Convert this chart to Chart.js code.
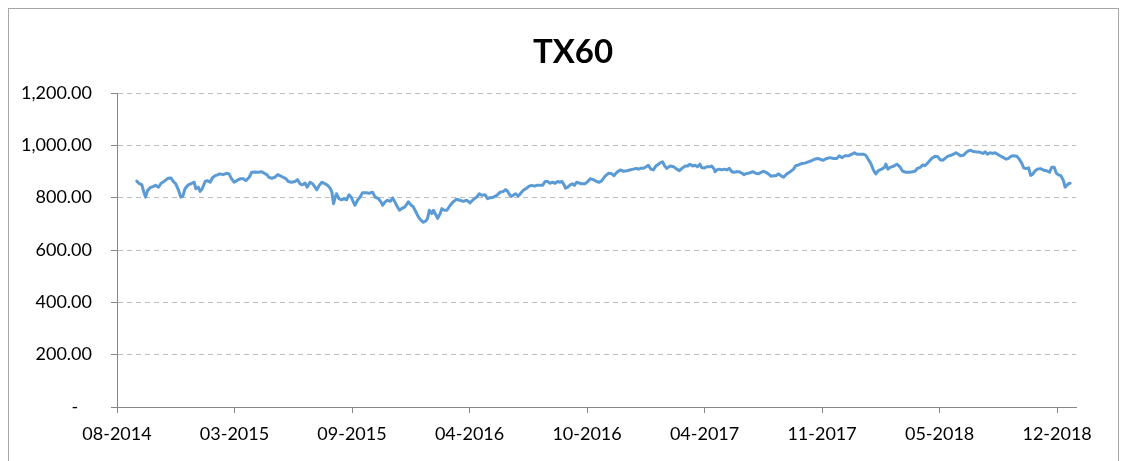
<!DOCTYPE html>
<html>
<head>
<meta charset="utf-8">
<script src="https://cdn.jsdelivr.net/npm/chart.js@4/dist/chart.umd.min.js"></script>
<style>
    body { margin: 0; background: #fff; overflow: hidden; }
    #frame { position: absolute; left: 8px; top: 8px; width: 1109px; height: 520px; border: 1px solid #a6a6a6; }
    #wrap { position: absolute; left: 0; top: 0; width: 1128px; height: 461px; }
    #title { position: absolute; left: 473px; top: 30px; width: 200px; height: 40px; line-height: 40px; text-align: center;
             font-family: Lato, "Open Sans", sans-serif; font-weight: bold; font-size: 33px; color: #000; }
</style>
</head>
<body>
<div id="frame"></div>
<div id="wrap"><canvas id="txChart" width="1128" height="461"></canvas></div>
<div id="title">TX60</div>
<script>
// labels under the date axis, one per major unit (28 weeks)
var dateLabels = ['08-2014', '03-2015', '09-2015', '04-2016', '10-2016', '04-2017', '11-2017', '05-2018', '12-2018'];

// weeks since the start of the axis
var weeks = [
    4.7, 5.2, 5.9, 6.4, 6.8, 7.3, 7.9, 8.7, 9.2, 9.9, 10.5, 11.3, 12.1, 12.9, 13.4, 14.0, 14.6, 15.2, 15.7, 16.2,
    17.0, 17.8, 18.4, 18.8, 19.4, 19.8, 20.3, 21.0, 21.5, 22.2, 22.7, 23.4, 24.0, 24.5, 25.3, 26.1, 26.7, 27.3, 27.9, 28.5,
    29.3, 30.1, 30.7, 31.5, 32.1, 32.9, 33.7, 34.5, 35.1, 35.7, 36.2, 36.9, 37.7, 38.3,
    38.8, 39.6, 40.3, 40.8, 41.6, 42.4, 43.0, 43.6, 44.2, 44.8, 45.3, 46.0, 46.6, 47.2, 47.6, 48.2, 48.8, 49.6, 50.2, 50.8,
    51.2, 51.6, 52.0, 52.3, 52.9, 53.5, 54.1, 54.7, 55.3, 55.8, 56.3, 56.7, 57.3, 57.9, 58.5, 59.3, 60.1, 60.9, 61.5, 62.3,
    62.9, 63.3, 63.9, 64.4, 65.1, 65.7, 66.2, 66.8, 67.3, 67.8, 68.6, 69.4, 70.1, 70.6, 71.2, 71.8, 72.4, 73.0, 73.6, 74.0,
    74.4, 75.0, 75.4,
    76.4, 77.0, 77.4, 78.0, 78.6, 79.4, 80.1, 80.9, 81.7, 82.5, 83.3, 84.1, 84.9, 85.7, 86.3, 86.9, 87.7, 88.3, 88.9, 89.7,
    90.5, 91.3, 92.1, 92.6, 93.1, 93.4, 93.9, 94.4, 95.0, 95.6, 96.3, 96.8, 97.6, 98.2, 98.8, 99.5, 100.0, 100.8, 101.4, 102.0,
    102.6, 103.2, 103.7, 104.4, 105.0, 105.6, 106.0, 106.4, 106.9, 107.4, 108.0, 108.5, 109.0, 109.5, 110.1, 110.7, 111.5, 112.2,
    112.7, 113.5, 114.3, 114.9, 115.5, 116.3, 117.1, 117.9, 118.4, 119.1, 119.9, 120.7, 121.5, 122.2, 123.0, 123.7, 124.2, 124.8,
    125.4, 126.1, 126.6, 127.2, 127.8, 128.4, 129.0, 129.6, 130.0, 130.5, 131.0, 131.8, 132.6, 133.4, 134.0, 134.6, 135.4, 136.0,
    136.5, 137.2, 137.7, 138.3, 138.9, 139.3, 139.9, 140.5, 141.2, 141.7, 142.3, 142.5, 142.9, 143.5, 144.1, 144.7, 145.3, 145.9,
    146.5, 147.0, 147.7, 148.3, 148.9, 149.4,
    149.7, 150.4, 151.1, 151.6, 152.2, 152.8, 153.5, 154.0, 154.6, 155.2, 155.8, 156.4, 157.0, 157.6, 158.2, 158.8, 159.6, 160.4,
    161.2, 161.7, 162.4, 163.2, 163.9, 164.7, 165.5, 166.2, 167.0, 167.5, 168.3, 169.1, 169.9, 170.7, 171.5, 172.1, 172.7, 173.5,
    174.3, 175.1, 175.7, 176.3, 177.1, 177.9, 178.4, 179.0, 179.7, 180.2, 180.8, 181.4, 182.2, 182.9, 183.2, 183.7, 184.2, 185.0,
    185.8, 186.4,
    186.6, 187.2, 188.0, 188.8, 189.6, 190.2, 190.7, 191.4, 192.0, 192.5, 193.3, 194.1, 194.9, 195.6, 196.1, 196.7, 197.3, 197.9,
    198.7, 199.3, 199.9, 200.5, 201.0, 201.7, 202.3, 202.9, 203.4, 204.1, 204.7, 205.3, 205.8, 206.3, 206.9, 207.4, 208.0, 208.7,
    209.2, 209.8, 210.4, 211.2, 211.9, 212.4, 213.0, 213.6, 214.4, 215.0, 215.6, 216.0, 216.6, 217.2, 217.7, 218.2, 218.8, 219.3,
    220.0, 220.8, 221.5, 222.2, 222.7, 223.3, 223.8, 224.3, 224.9, 225.5, 225.9, 226.3, 226.7, 227.1
];

// index level
var tx60 = [
    863, 855, 850, 821, 802, 828, 838, 843, 847, 840, 855, 863, 874, 875, 862, 853, 831, 802, 806, 834,
    849, 855, 859, 834, 840, 824, 834, 862, 865, 859, 875, 884, 887, 891, 888, 893, 891, 872, 859, 865,
    872, 872, 865, 878, 897, 898, 897, 899, 893, 888, 878, 874, 879, 888,
    884, 878, 872, 862, 859, 862, 869, 853, 849, 856, 840, 859, 853, 840, 830, 847, 859, 853, 847, 836,
    821, 777, 802, 815, 796, 792, 796, 792, 811, 802, 784, 771, 790, 802, 819, 819, 817, 821, 802, 796,
    784, 771, 784, 790, 786, 799, 784, 765, 752, 758, 765, 784, 771, 765, 746, 727, 714, 706, 711, 721,
    752, 739, 752,
    721, 739, 758, 752, 752, 771, 784, 794, 790, 786, 790, 780, 793, 802, 815, 809, 811, 796, 800, 802,
    809, 821, 824, 831, 824, 815, 805, 809, 815, 806, 819, 828, 836, 844, 847, 844, 847, 847, 847, 862,
    862, 855, 859, 855, 862, 859, 862, 853, 836, 840, 849, 853, 847, 859, 856, 853, 853, 862,
    872, 869, 862, 859, 865, 882, 893, 891, 884, 897, 906, 901, 903, 906, 909, 912, 909, 912,
    912, 918, 924, 909, 906, 921, 928, 935, 937, 921, 912, 921, 918, 909, 903, 912, 921, 921,
    928, 921, 924, 918, 928, 915, 913, 918, 918, 921, 909, 899, 906, 909, 906, 909, 906, 912,
    899, 897, 899, 899, 893, 888,
    891, 893, 897, 899, 893, 891, 897, 901, 897, 891, 882, 884, 884, 891, 884, 878, 891, 899,
    909, 922, 925, 931, 932, 937, 941, 947, 950, 947, 943, 950, 953, 950, 950, 960, 953, 960,
    960, 966, 972, 966, 966, 966, 962, 947, 928, 907, 891, 903, 909, 916, 928, 909, 916, 920,
    928, 920,
    916, 901, 897, 897, 899, 902, 912, 916, 925, 922, 935, 950, 958, 956, 945, 943, 950, 958,
    962, 966, 972, 966, 960, 962, 972, 979, 981, 976, 975, 975, 972, 969, 975, 966, 972, 969,
    972, 966, 960, 953, 947, 950, 958, 960, 958, 947, 931, 914, 911, 914, 885, 890, 903, 909,
    911, 905, 903, 897, 916, 916, 894, 887, 884, 865, 840, 847, 853, 855
];

var yTicks = [0, 200, 400, 600, 800, 1000, 1200];

var axisGrey = '#868686';
var font = { family: 'Lato, "Open Sans", sans-serif', size: 18 };

var points = weeks.map(function (w, i) {
    return { x: w, y: tx60[i] };
});

var ctx = document.getElementById('txChart').getContext('2d');

var txChart = new Chart(ctx, {
    type: 'line',
    data: {
        datasets: [{
            label: 'TX60',
            data: points,
            borderColor: '#5B9BD5',
            borderWidth: 3,
            borderJoinStyle: 'round',
            borderCapStyle: 'round',
            pointRadius: 0,
            fill: false,
            tension: 0
        }]
    },
    options: {
        responsive: false,
        animation: false,
        devicePixelRatio: 1,
        layout: {
            padding: { top: 93, right: 52, bottom: 0, left: 0 }
        },
        plugins: {
            legend: { display: false },
            tooltip: { enabled: false },
            title: { display: false }
        },
        scales: {
            x: {
                type: 'linear',
                min: 0,
                max: 228.5,
                afterFit: function (scale) { scale.height = 54; },
                ticks: {
                    stepSize: 28,
                    includeBounds: false,
                    autoSkip: false,
                    maxRotation: 0,
                    padding: 10,
                    color: '#000',
                    font: font,
                    callback: function (value) {
                        return dateLabels[Math.round(value / 28)];
                    }
                },
                grid: {
                    drawOnChartArea: false,
                    drawTicks: true,
                    tickLength: 6,
                    tickColor: axisGrey
                },
                border: { display: true, color: axisGrey, width: 1 }
            },
            y: {
                min: 0,
                max: 1200,
                afterFit: function (scale) { scale.width = 117; },
                afterBuildTicks: function (scale) {
                    scale.ticks = yTicks.map(function (v) { return { value: v }; });
                },
                ticks: {
                    padding: 19,
                    color: '#000',
                    font: font,
                    callback: function (value) {
                        if (value === 0) return '-   ';
                        return value.toLocaleString('en-US', { minimumFractionDigits: 2, maximumFractionDigits: 2 });
                    }
                },
                grid: {
                    color: '#bcbcbc',
                    lineWidth: 1,
                    drawTicks: true,
                    tickLength: 6,
                    tickColor: axisGrey,
                    tickBorderDash: []
                },
                border: { display: true, color: axisGrey, width: 1, dash: [5, 4] }
            }
        }
    }
});
</script>
</body>
</html>
